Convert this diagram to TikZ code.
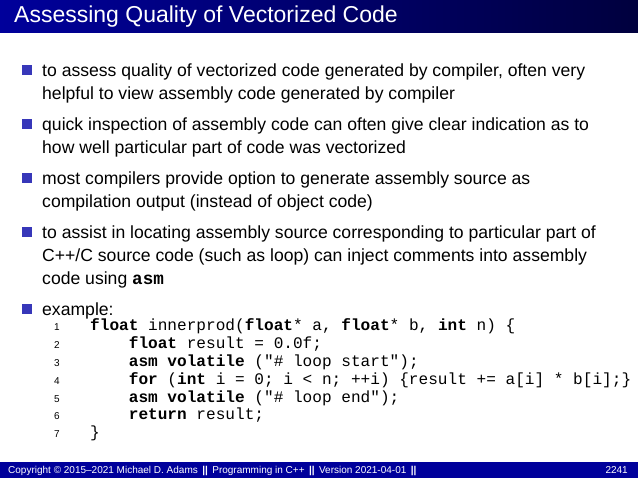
\documentclass[tikz,border=0pt]{standalone}
\usepackage{fontspec}
\setmainfont{Liberation Sans}
\newfontfamily\codefont{Liberation Mono}
\definecolor{barblue}{RGB}{0,0,155}
\definecolor{bulblue}{RGB}{55,55,185}
\begin{document}
\begin{tikzpicture}[x=1pt,y=-1pt,
  bul/.style={fill=bulblue,minimum size=10pt,inner sep=0pt},
  txt/.style={anchor=base west,inner sep=0pt,font=\fontsize{17.6}{20}\selectfont},
  code/.style={anchor=base west,inner sep=0pt,font=\codefont\fontsize{16.1}{18}\selectfont},
  num/.style={anchor=base east,inner sep=0pt,font=\fontsize{10}{11}\selectfont}]
\useasboundingbox (0,0) rectangle (638,478);
\shade[left color=barblue,right color=black!60!barblue] (0,0) rectangle (638,33);
\node[anchor=base west,inner sep=0pt,text=white,font=\fontsize{23}{26}\selectfont] (title) at (14,23) {Assessing Quality of Vectorized Code};
\fill[barblue] (0,462) rectangle (638,478);
\node[anchor=base west,inner sep=0pt,text=white,font=\fontsize{10}{11}\selectfont] (foot) at (8,474) {Copyright \textcopyright{} 2015--2021 Michael D. Adams \,\textbf{||}\, Programming in C++ \,\textbf{||}\, Version 2021-04-01 \,\textbf{||}};
\node[anchor=base east,inner sep=0pt,text=white,font=\fontsize{10}{11}\selectfont] (pg) at (628,474) {2241};
\foreach \y in {70,124,178,232,309} \node[bul] at (27,\y) {};
\node[txt] (l1) at (42,77) {to assess quality of vectorized code generated by compiler, often very};
\node[txt] (l2) at (42,100) {helpful to view assembly code generated by compiler};
\node[txt] (l3) at (42,131) {quick inspection of assembly code can often give clear indication as to};
\node[txt] (l4) at (42,154) {how well particular part of code was vectorized};
\node[txt] (l5) at (42,185) {most compilers provide option to generate assembly source as};
\node[txt] (l6) at (42,208) {compilation output (instead of object code)};
\node[txt] (l7) at (42,239) {to assist in locating assembly source corresponding to particular part of};
\node[txt] (l8) at (42,262) {C++/C source code (such as loop) can inject comments into assembly};
\node[txt] (l9) at (42,285) {code using {\codefont\bfseries asm}};
\node[txt] (l10) at (42,316) {example:};
\foreach \i/\y in {1/331,2/349,3/367,4/385,5/403,6/420,7/438} \node[num] at (60,\y) {\i};
\node[code] (c1) at (90,331) {\textbf{float} innerprod(\textbf{float}* a, \textbf{float}* b, \textbf{int} n) \{};
\node[code] (c2) at (90,349) {\ \ \ \ \textbf{float} result = 0.0f;};
\node[code] (c3) at (90,367) {\ \ \ \ \textbf{asm volatile} ("\# loop start");};
\node[code] (c4) at (90,385) {\ \ \ \ \textbf{for} (\textbf{int} i = 0; i < n; ++i) \{result += a[i] * b[i];\}};
\node[code] (c5) at (90,403) {\ \ \ \ \textbf{asm volatile} ("\# loop end");};
\node[code] (c6) at (90,420) {\ \ \ \ \textbf{return} result;};
\node[code] (c7) at (90,438) {\}};
\end{tikzpicture}
\end{document}
